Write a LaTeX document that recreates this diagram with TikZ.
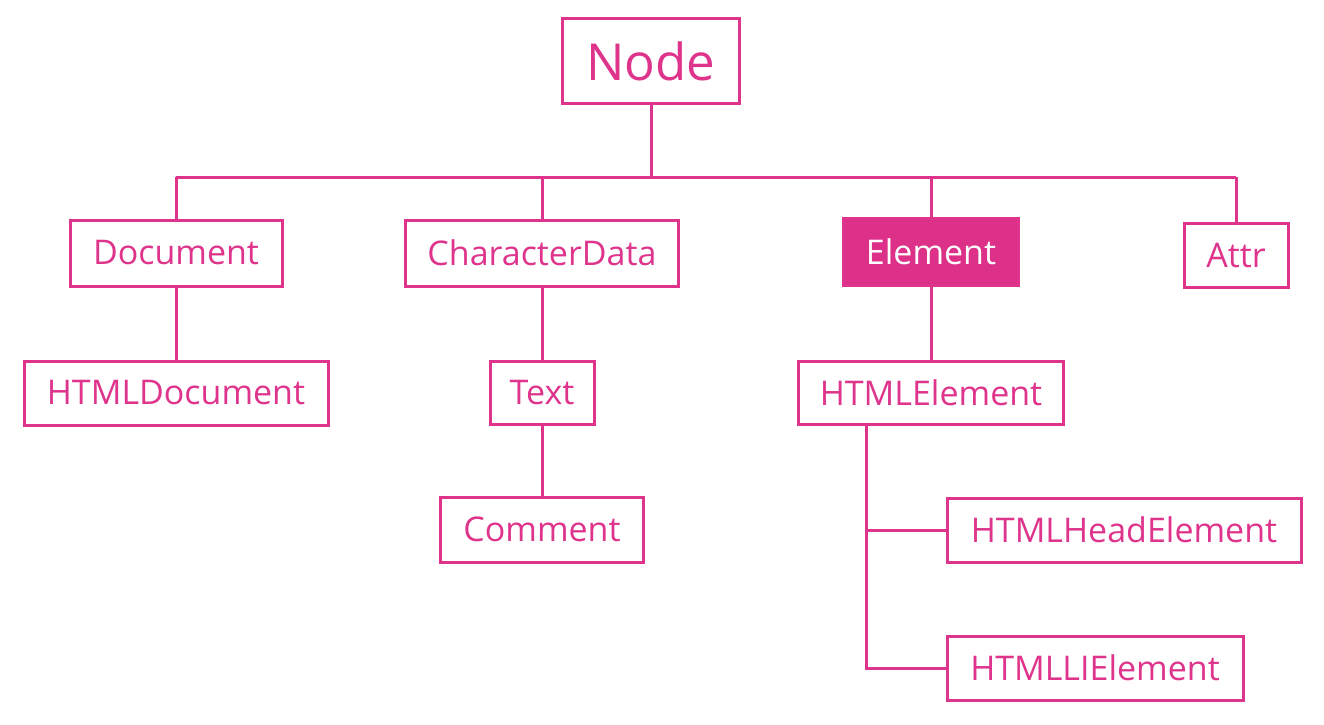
\documentclass[tikz,border=0pt]{standalone}
\usepackage{fontspec}
\setmainfont{Open Sans}
\definecolor{pinkline}{RGB}{222,52,140}
\definecolor{pinkfill}{RGB}{220,48,137}
\begin{document}
\begin{tikzpicture}[x=1pt,y=-1pt,
  box/.style={draw=pinkline,line width=3pt,rectangle,inner sep=0pt,text=pinkline,
    font=\fontsize{34}{38}\selectfont},
  filledbox/.style={box,fill=pinkfill,text=white},
  conn/.style={draw=pinkline,line width=3pt}]
\useasboundingbox (0,0) rectangle (1324,724);
\node[box,minimum width=177pt,minimum height=85pt,font=\fontsize{51}{55}\selectfont] (node) at (651,61) {Node};
\node[box,minimum width=212pt,minimum height=66pt] (doc) at (176,253) {Document};
\node[box,minimum width=273pt,minimum height=66pt] (cd) at (542,253) {CharacterData};
\node[filledbox,minimum width=175pt,minimum height=67pt] (el) at (931,252) {Element};
\node[box,minimum width=104pt,minimum height=64pt] (attr) at (1236,255) {Attr};
\node[box,minimum width=304pt,minimum height=64pt] (hdoc) at (176,393) {HTMLDocument};
\node[box,minimum width=104pt,minimum height=63pt] (text) at (542,392.5) {Text};
\node[box,minimum width=203pt,minimum height=65pt] (comment) at (542,529.5) {Comment};
\node[box,minimum width=265pt,minimum height=63pt] (hel) at (931,392.5) {HTMLElement};
\node[box,minimum width=354pt,minimum height=64pt] (head) at (1124,530) {HTMLHeadElement};
\node[box,minimum width=296pt,minimum height=64pt] (li) at (1095,668) {HTMLLIElement};
\coordinate (bus) at (0,177);
\coordinate (br) at (866,0);
\draw[conn] (node.south) -- (node.south |- bus);
\draw[conn] (doc.north |- bus) -- (attr.north |- bus);
\draw[conn] (doc.north |- bus) -- (doc.north);
\draw[conn] (cd.north |- bus) -- (cd.north);
\draw[conn] (el.north |- bus) -- (el.north);
\draw[conn] (attr.north |- bus) -- (attr.north);
\draw[conn] (doc.south) -- (hdoc.north);
\draw[conn] (cd.south) -- (text.north);
\draw[conn] (text.south) -- (comment.north);
\draw[conn] (el.south) -- (hel.north);
\draw[conn] (br |- hel.south) -- (br |- li.west) -- (li.west);
\draw[conn] (br |- head.west) -- (head.west);
\end{tikzpicture}
\end{document}
